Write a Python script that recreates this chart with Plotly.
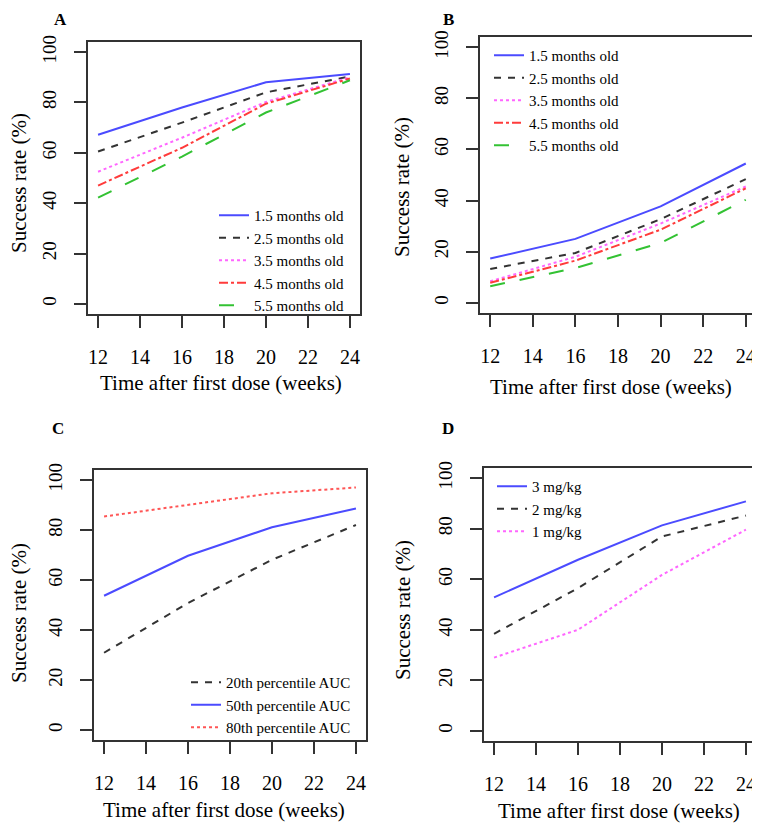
import plotly.graph_objects as go

# x values (weeks after first dose)
weeks = [12, 16, 20, 24]

# panel A / B : age groups
ages = ['1.5 months old', '2.5 months old', '3.5 months old', '4.5 months old', '5.5 months old']
a_rates = [[67.2, 78.0, 88.0, 91.3],
           [60.5, 72.0, 84.0, 90.3],
           [52.5, 66.0, 80.2, 90.0],
           [47.0, 62.0, 79.5, 89.5],
           [42.2, 58.5, 76.0, 88.8]]
b_rates = [[17.3, 25.0, 37.7, 54.5],
           [13.2, 19.5, 32.7, 48.4],
           [8.4, 18.0, 31.0, 45.5],
           [7.8, 16.5, 28.6, 44.8],
           [6.5, 13.6, 23.4, 40.3]]

# panel C : exposure percentiles
auc_labels = ['20th percentile AUC', '50th percentile AUC', '80th percentile AUC']
c_rates = [[30.9, 50.8, 68.1, 82.0],
           [53.7, 69.7, 81.1, 88.6],
           [85.4, 90.0, 94.7, 97.0]]

# panel D : doses
doses = ['3 mg/kg', '2 mg/kg', '1 mg/kg']
d_rates = [[52.8, 67.7, 81.3, 90.8],
           [38.4, 56.5, 76.9, 85.2],
           [29.0, 40.0, 61.7, 79.6]]

xticks = [12, 14, 16, 18, 20, 22, 24]
yticks = [0, 20, 40, 60, 80, 100]

# line styles
age_styles = [('#4b4bff', 'solid'), ('#333333', '7px,7px'), ('#ff66ff', 'dot'),
              ('#ff3b3b', 'dashdot'), ('#33c233', 'longdash')]
auc_styles = [('#333333', '7px,7px'), ('#4b4bff', 'solid'), ('#ff5555', 'dot')]
dose_styles = [('#4b4bff', 'solid'), ('#333333', '7px,7px'), ('#ff66ff', 'dot')]

FONT = 'Liberation Serif'
# the page body has an 8px margin, so the figure is a bit smaller than the window
OFF = 8
W, H = 760 - OFF, 826 - OFF


def px(x):
    return (x - OFF) / W


def py(y):
    return 1 - (y - OFF) / H


def dx(a, b):
    return [px(a), px(b)]


def dy(top, bottom):
    return [py(bottom), py(top)]


fig = go.Figure()


def add_lines(names, rates, styles, n, legend):
    xa = 'x' if n == 1 else 'x%d' % n
    ya = 'y' if n == 1 else 'y%d' % n
    for name, vals, (col, dash) in zip(names, rates, styles):
        fig.add_trace(go.Scatter(x=weeks, y=vals, mode='lines', name=name,
                                 line=dict(color=col, dash=dash, width=2),
                                 xaxis=xa, yaxis=ya, legend=legend))


add_lines(ages, a_rates, age_styles, 1, 'legend')
add_lines(ages, b_rates, age_styles, 2, 'legend2')
add_lines(auc_labels, c_rates, auc_styles, 3, 'legend3')
add_lines(doses, d_rates, dose_styles, 4, 'legend4')


def xax(dom, anchor):
    return dict(domain=dom, anchor=anchor, range=[11.52, 24.48], tickvals=xticks,
                ticks='outside', ticklen=12, tickwidth=2, tickcolor='#333',
                showline=True, mirror=True, linecolor='#333', linewidth=2,
                showgrid=False, zeroline=False, automargin=False, ticklabelstandoff=12,
                tickfont=dict(family=FONT, size=20, color='black'))


def yax(dom, anchor):
    return dict(domain=dom, anchor=anchor, range=[-4, 104], tickvals=yticks,
                tickangle=-90, ticks='outside', ticklen=12, tickwidth=2, tickcolor='#333',
                showline=True, mirror=True, linecolor='#333', linewidth=2,
                showgrid=False, zeroline=False, automargin=False, ticklabelstandoff=10,
                tickfont=dict(family=FONT, size=19, color='black'))


def leg(left, top):
    return dict(x=px(left), y=py(top), xanchor='left', yanchor='top',
                bgcolor='rgba(0,0,0,0)', borderwidth=0, itemwidth=30,
                font=dict(family=FONT, size=15, color='black'))


fig.update_layout(
    width=W, height=H, margin=dict(l=0, r=0, t=0, b=0, autoexpand=False),
    paper_bgcolor='white', plot_bgcolor='white',
    xaxis=xax(dx(88, 360), 'y'), yaxis=yax(dy(42, 314), 'x'),
    xaxis2=xax(dx(480, 756), 'y2'), yaxis2=yax(dy(37, 313), 'x2'),
    xaxis3=xax(dx(94, 366), 'y3'), yaxis3=yax(dy(470, 740), 'x3'),
    xaxis4=xax(dx(484, 756), 'y4'), yaxis4=yax(dy(468, 741), 'x4'),
    legend=leg(214, 199), legend2=leg(489, 39), legend3=leg(186, 666),
    legend4=leg(492, 470),
)

# panel letters and axis titles
annots = []
for letter, x, y in [('A', 60, 8), ('B', 448, 8)]:
    annots.append(dict(text='<b>%s</b>' % letter, x=px(x), y=py(y), xref='paper', yref='paper',
                       showarrow=False, xanchor='center', yanchor='top',
                       font=dict(family=FONT, size=17, color='black')))
for letter, x, y in [('C', 58, 428), ('D', 448, 428)]:
    annots.append(dict(text='<b>%s</b>' % letter, x=px(x), y=py(y), xref='paper', yref='paper',
                       showarrow=False, xanchor='center', yanchor='middle',
                       font=dict(family=FONT, size=17, color='black')))
for x, y in [(221, 383), (611, 387), (224, 810), (619, 811)]:
    annots.append(dict(text='Time after first dose (weeks)', x=px(x), y=py(y),
                       xref='paper', yref='paper', showarrow=False,
                       xanchor='center', yanchor='middle',
                       font=dict(family=FONT, size=21, color='black')))
for x, y in [(19, 183), (402, 187), (19, 613), (403, 610)]:
    annots.append(dict(text='Success rate (%)', x=px(x), y=py(y), textangle=-90,
                       xref='paper', yref='paper', showarrow=False,
                       xanchor='center', yanchor='middle',
                       font=dict(family=FONT, size=21, color='black')))
fig.update_layout(annotations=annots)

fig.write_html('out.html')
